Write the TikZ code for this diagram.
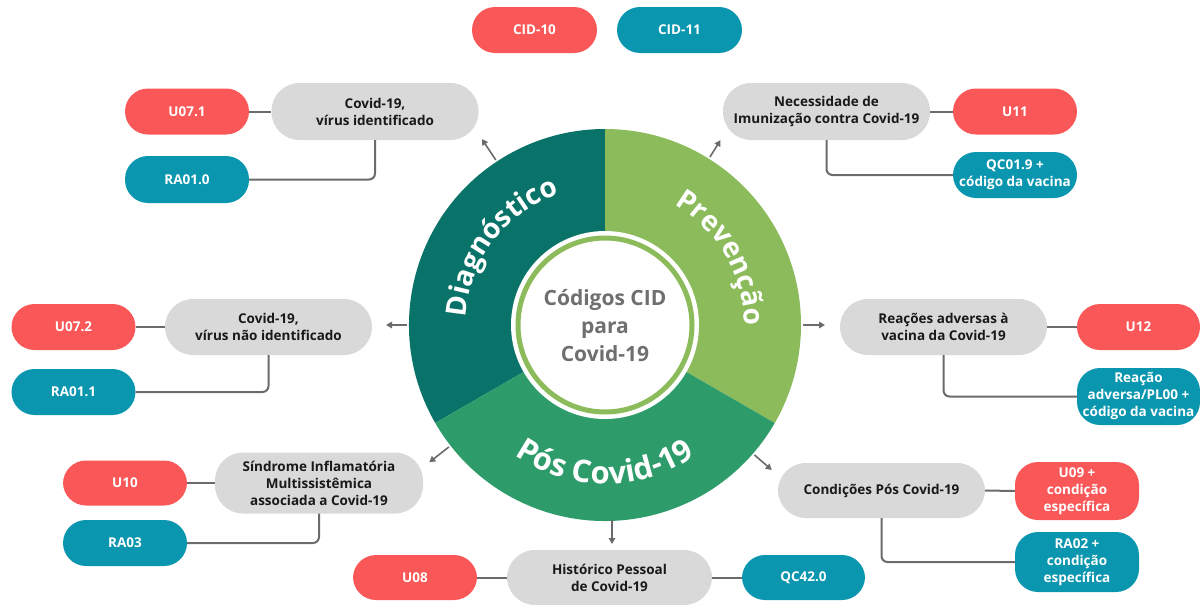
\documentclass[tikz,border=0pt]{standalone}
\usepackage{fontspec}
\setmainfont{Open Sans}
\usetikzlibrary{arrows.meta,decorations.text}
\definecolor{cred}{HTML}{FA5858}
\definecolor{cteal}{HTML}{0B96AF}
\definecolor{cgray}{HTML}{D9D9D9}
\definecolor{cdark}{HTML}{0A7369}
\definecolor{clight}{HTML}{8BBB5A}
\definecolor{cmid}{HTML}{2E9B6A}
\definecolor{cline}{HTML}{6B6B6B}
\definecolor{ctext}{HTML}{6F6F6F}
\tikzset{
  base/.style={inner sep=0pt, align=center, font=\bfseries\fontsize{13.5}{17}\selectfont},
  redp/.style={base, fill=cred, text=white, minimum width=124pt, minimum height=46pt, rounded corners=23pt},
  tealp/.style={base, fill=cteal, text=white, minimum width=124pt, minimum height=46pt, rounded corners=23pt},
  grayp/.style={base, fill=cgray, text=black!90, minimum width=207pt, minimum height=56pt, rounded corners=28pt},
  link/.style={draw=cline, line width=2pt, rounded corners=6pt},
  arr/.style={draw=cline, line width=1.6pt, -{Triangle[length=6pt,width=6.5pt]}},
}
\begin{document}
\begin{tikzpicture}[x=1pt,y=1pt]
\useasboundingbox (0,0) rectangle (1200,-605);
\coordinate (C) at (605,-325);
% wheel
\fill[cdark] (C) -- ([shift={(210:196)}]C) arc[start angle=210, end angle=90, radius=196] -- cycle;
\fill[clight] (C) -- ([shift={(90:196)}]C) arc[start angle=90, end angle=-30, radius=196] -- cycle;
\fill[cmid] (C) -- ([shift={(-30:196)}]C) arc[start angle=-30, end angle=-150, radius=196] -- cycle;
\fill[white] (C) circle[radius=94];
\draw[clight, line width=5pt] (C) circle[radius=87];
\node[font=\bfseries\fontsize{21}{28}\selectfont, text=ctext, align=center] (center) at (605,-326) {Códigos CID\\para\\Covid-19};
% curved labels
\path[decorate, decoration={text along path, text align=center, text color=white,
  text={|\bfseries\fontsize{28}{28}\selectfont|Diagnóstico}}]
  ([shift={(203:139)}]C) arc[start angle=203, end angle=83, radius=139];
\path[decorate, decoration={text along path, text align=center, text color=white,
  text={|\bfseries\fontsize{28}{28}\selectfont|Prevenção}}]
  ([shift={(90:139)}]C) arc[start angle=90, end angle=-30, radius=139];
\path[decorate, decoration={text along path, text align=center, text color=white,
  text={|\bfseries\fontsize{31}{31}\selectfont|Pós Covid-19}}]
  ([shift={(210:159)}]C) arc[start angle=210, end angle=330, radius=159];
% top legend
\node[redp, minimum width=125pt] (cid10) at (534.5,-30) {CID-10};
\node[tealp, minimum width=125pt] (cid11) at (679.5,-30) {CID-11};
% diagnostic group 1
\node[grayp, minimum height=57pt] (g1) at (375,-111.5) {Covid-19,\\vírus identificado};
\node[redp] (u071) at (187,-111.5) {U07.1};
\node[tealp, minimum height=47pt] (ra010) at (187,-179.5) {RA01.0};
\draw[link] (u071.east) -- (g1.west);
\draw[link] (g1.south) |- (ra010.east);
% prevention group 1
\node[grayp, minimum height=57pt] (g2) at (826.5,-111.5) {Necessidade de\\Imunização contra Covid-19};
\node[redp] (u11) at (1015,-111.5) {U11};
\node[tealp] (qc019) at (1015,-175) {QC01.9 +\\código da vacina};
\draw[link] (g2.east) -- (u11.west);
\draw[link] (g2.south) |- (qc019.west);
% diagnostic group 2
\node[grayp] (g3) at (268.5,-327) {Covid-19,\\vírus não identificado};
\node[redp] (u072) at (73.5,-327) {U07.2};
\node[tealp] (ra011) at (73.5,-392) {RA01.1};
\draw[link] (u072.east) -- (g3.west);
\draw[link] (g3.south) |- (ra011.east);
% prevention group 2
\node[grayp] (g4) at (943.5,-327) {Reações adversas à\\vacina da Covid-19};
\node[redp, minimum width=123pt] (u12) at (1138.5,-327) {U12};
\node[tealp, minimum width=123pt, minimum height=57pt] (pl00) at (1138.5,-396.5) {Reação\\adversa/PL00 +\\código da vacina};
\draw[link] (g4.east) -- (u12.west);
\draw[link] (g4.south) |- (pl00.west);
% post group 1
\node[grayp, minimum width=208pt, minimum height=61pt] (g5) at (319,-483) {Síndrome Inflamatória\\Multissistêmica\\associada a Covid-19};
\node[redp, minimum height=45pt] (u10) at (125,-483) {U10};
\node[tealp] (ra03) at (125,-543) {RA03};
\draw[link] (u10.east) -- (g5.west);
\draw[link] (g5.south) |- (ra03.east);
% post group 2
\node[grayp, minimum width=205pt, minimum height=55pt] (g6) at (609.5,-577.5) {Histórico Pessoal\\de Covid-19};
\node[redp, minimum height=45pt] (u08) at (415,-577.5) {U08};
\node[tealp, minimum width=123pt, minimum height=45pt] (qc420) at (803.5,-577.5) {QC42.0};
\draw[link] (u08.east) -- (g6.west);
\draw[link] (g6.east) -- (qc420.west);
% post group 3
\node[grayp, minimum height=55pt] (g7) at (881.5,-490.5) {Condições Pós Covid-19};
\node[redp, minimum height=58pt] (u09) at (1077,-491) {U09 +\\condição\\específica};
\node[tealp, minimum height=60pt] (ra02) at (1077,-562) {RA02 +\\condição\\específica};
\draw[link] (g7.east) -- (u09.west);
\draw[link] (g7.south) |- (ra02.west);
% arrows from wheel
\coordinate (a1s) at ([shift={(123.5:198)}]C); \coordinate (a1e) at ([shift={(123.5:223)}]C);
\coordinate (a2s) at ([shift={(58:198)}]C);    \coordinate (a2e) at ([shift={(58:218)}]C);
\coordinate (a3s) at ([shift={(180:198)}]C);   \coordinate (a3e) at ([shift={(180:219)}]C);
\coordinate (a4s) at ([shift={(0:198)}]C);     \coordinate (a4e) at ([shift={(0:220)}]C);
\coordinate (a5s) at ([shift={(218:198)}]C);   \coordinate (a5e) at ([shift={(218:223)}]C);
\coordinate (a6s) at (612,-520);               \coordinate (a6e) at (612,-544);
\coordinate (a7s) at ([shift={(-41:198)}]C);   \coordinate (a7e) at ([shift={(-41:221)}]C);
\foreach \i in {1,...,7} {\draw[arr] (a\i s) -- (a\i e);}
\end{tikzpicture}
\end{document}
